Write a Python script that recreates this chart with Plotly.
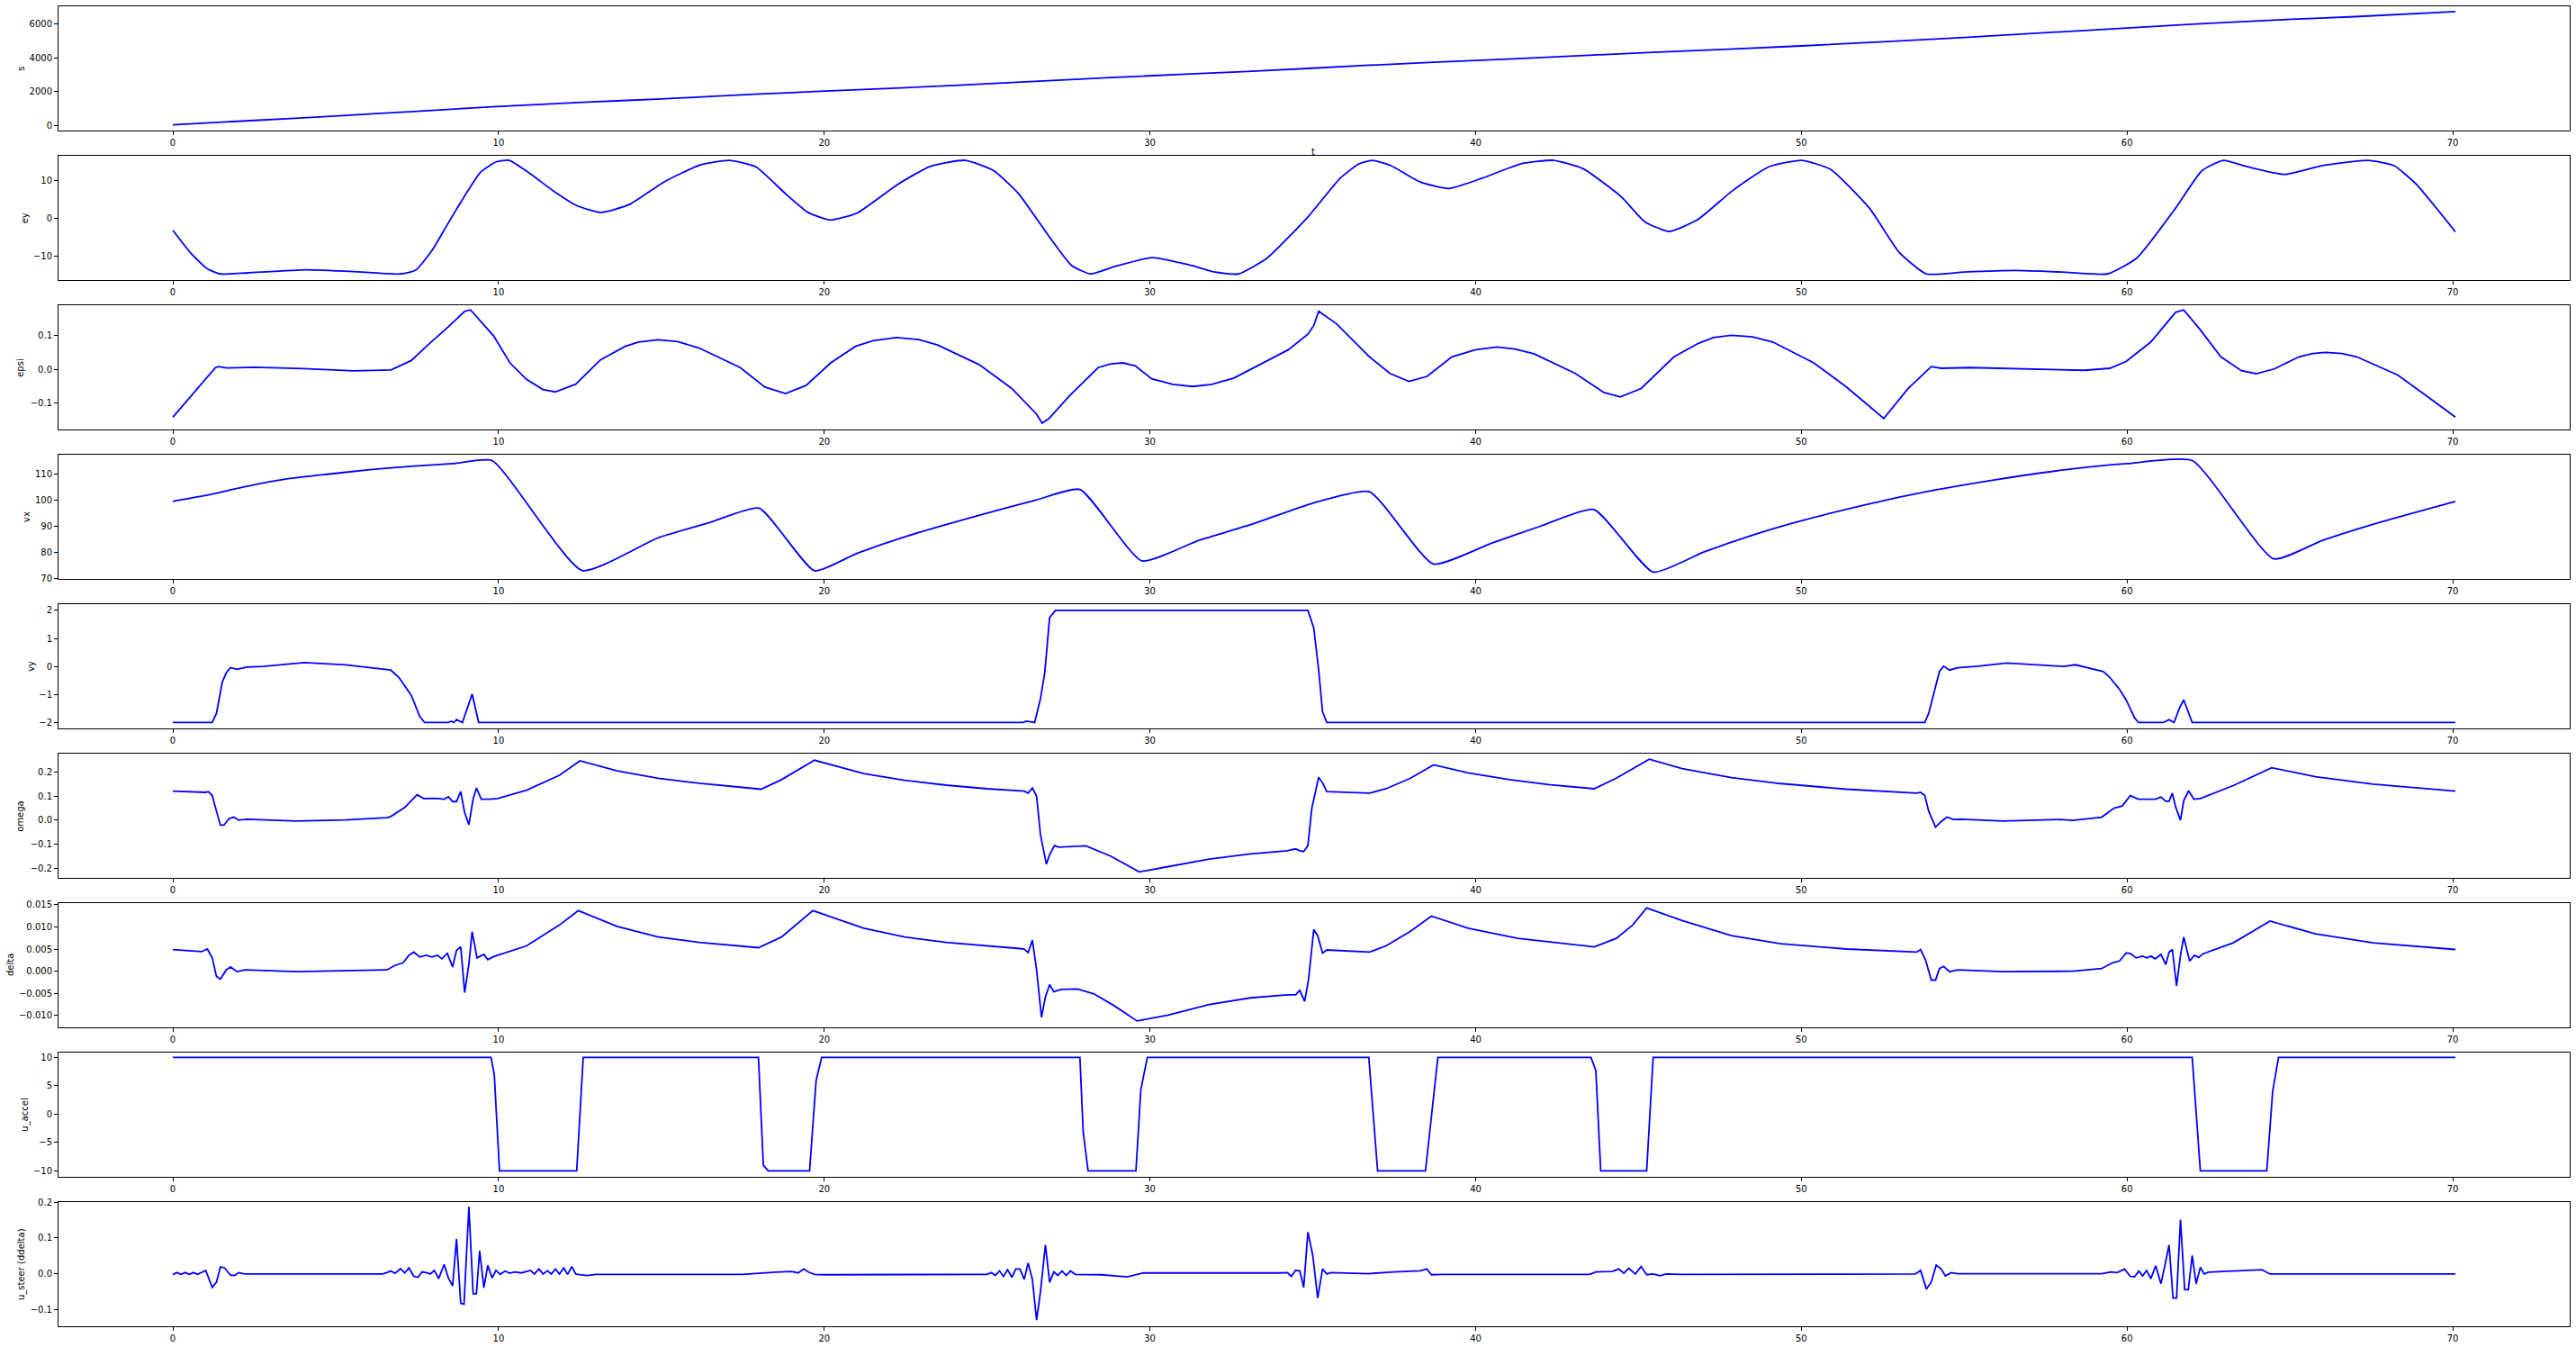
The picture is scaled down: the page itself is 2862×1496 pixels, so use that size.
import plotly.graph_objects as go

# ---------------- data ----------------
t_s = [0, 2.5, 5, 7.5, 9.8, 12.57, 15, 18.0, 19.7, 24, 27.85, 29.75, 33, 36.74, 38.7, 41, 43.63,
       45.45, 50, 55, 62, 64.5, 67, 70.08]
s_vals = [40, 296, 560, 838, 1100, 1370, 1566, 1860, 2005, 2366, 2745, 2920, 3193, 3565, 3740, 3924,
          4170, 4325, 4710, 5210, 5995, 6240, 6443, 6745]

t_ey = [0, 0.56, 1.05, 1.45, 2.3, 4.1, 5.8, 7.0, 7.46, 7.96, 8.45, 8.95, 9.44, 9.93, 10.33, 10.92,
        11.66, 12.4, 13.14, 14.0, 15.1, 16.2, 17.08, 17.9, 18.8, 19.5, 20.19, 21.0, 22.26, 23.25,
        24.33, 25.2, 25.96, 26.95, 27.6, 28.18, 28.9, 30.06, 31.2, 32.0, 32.72, 33.6, 34.84, 35.83,
        36.4, 36.82, 37.4, 38.3, 39.18, 40.2, 41.4, 42.4, 43.3, 44.46, 45.2, 45.94, 46.8, 47.9,
        49.0, 50.0, 50.9, 52.1, 53.0, 53.84, 55.0, 56.55, 58.0, 59.4, 60.3, 61.48, 62.3, 62.96,
        63.7, 64.84, 66.0, 67.4, 68.2, 68.88, 70.08]
ey_vals = [-3.2, -9.3, -13.3, -14.7, -14.4, -13.6, -14.2, -14.7, -13.7, -8.5, -1.4, 5.7, 12.0, 14.8,
           15.2, 12.0, 7.3, 3.3, 1.5, 3.5, 9.6, 14.0, 15.2, 13.5, 6.5, 1.5, -0.5, 1.3, 8.9, 13.6,
           15.2, 12.5, 6.5, -5.4, -12.5, -14.7, -12.8, -10.4, -12.3, -14.2, -14.7, -10.5, 0.2, 10.4,
           14.2, 15.2, 13.8, 9.5, 7.8, 10.5, 14.3, 15.2, 13.0, 5.7, -1.0, -3.5, -0.5, 7.3,
           13.5, 15.2, 12.8, 2.5, -9.0, -14.7, -14.2, -13.8, -14.2, -14.7, -10.5, 2.5, 12.5, 15.2,
           13.5, 11.5, 13.8, 15.2, 13.8, 8.9, -3.6]

t_epsi = [0, 1.31, 1.4, 1.64, 2.5, 4.0, 5.56, 6.7, 7.32, 7.83, 8.46, 8.96, 9.14, 9.85, 10.35, 10.86,
          11.36, 11.74, 12.37, 13.13, 13.89, 14.3, 14.9, 15.5, 16.16, 17.42, 18.18, 18.81, 19.44,
          20.2, 20.96, 21.5, 22.22, 22.9, 23.48, 24.75, 25.76, 26.52, 26.69, 26.9, 27.53, 28.41,
          28.8, 29.17, 29.55, 30.05, 30.7, 31.31, 31.9, 32.58, 34.25, 34.85, 35.03, 35.18, 35.73,
          36.74, 37.37, 37.95, 38.51, 39.27, 40.0, 40.66, 41.2, 41.79, 43.06, 43.94, 44.44, 45.08,
          46.09, 46.84, 47.3, 47.85, 48.5, 49.12, 50.38, 51.39, 52.53, 53.28, 53.99, 54.29, 55.18,
          56.94, 58.71, 59.47, 59.97, 60.73, 61.49, 61.74, 62.25, 62.88, 63.51, 63.96, 64.52,
          65.28, 65.7, 66.09, 66.6, 67.05, 68.31, 69.32, 70.08]
epsi_vals = [-0.142, 0.005, 0.008, 0.004, 0.006, 0.002, -0.0045, -0.002, 0.026, 0.072, 0.126, 0.172,
             0.176, 0.099, 0.019, -0.030, -0.060, -0.067, -0.044, 0.028, 0.068, 0.081, 0.0875,
             0.082, 0.063, 0.005, -0.053, -0.072, -0.048, 0.019, 0.068, 0.085, 0.094, 0.088, 0.072,
             0.014, -0.057, -0.133, -0.160, -0.146, -0.079, 0.005, 0.016, 0.019, 0.010, -0.028,
             -0.045, -0.051, -0.045, -0.026, 0.058, 0.104, 0.130, 0.172, 0.135, 0.037, -0.0125,
             -0.036, -0.021, 0.037, 0.058, 0.066, 0.060, 0.046, -0.0125, -0.069, -0.082, -0.057,
             0.037, 0.077, 0.094, 0.101, 0.096, 0.081, 0.019, -0.053, -0.146, -0.057, 0.008, 0.003,
             0.005, 0.001, -0.003, 0.003, 0.023, 0.081, 0.169, 0.176, 0.117, 0.037, -0.004, -0.013,
             0.001, 0.037, 0.047, 0.050, 0.047, 0.037, -0.017, -0.088, -0.142]

t_vx = [0, 1.01, 2.27, 3.54, 4.8, 6.06, 7.32, 8.59, 9.8, 12.57, 14.9, 16.5, 18.0, 19.7, 21.0, 22.5,
        25.0, 26.5, 27.85, 29.75, 31.5, 33.2, 35.0, 36.74, 38.7, 40.5, 42.0, 43.63, 45.45, 47.0,
        48.5, 50.0, 52.0, 54.0, 56.0, 58.0, 60.0, 62.0, 64.5, 66.0, 67.5, 69.0, 70.08]
vx_vals = [99.5, 101.8, 105.3, 108.2, 110.0, 111.7, 113.0, 114.0, 115.2, 72.9, 85.5, 91.4, 96.9,
           72.8, 79.5, 86.0, 95.0, 100.0, 104.1, 76.6, 84.5, 91.0, 98.8, 103.2, 75.4, 83.5, 90.0,
           96.4, 72.3, 80.0, 86.5, 92.0, 98.3, 103.6, 107.9, 111.5, 114.0, 115.2, 77.4, 84.5,
           90.5, 95.8, 99.5]

t_vy = [0, 1.21, 1.34, 1.52, 1.64, 1.77, 1.97, 2.27, 2.78, 4.04, 5.3, 6.69, 6.94, 7.32, 7.58, 7.73,
        8.46, 8.55, 8.63, 8.71, 8.89, 9.09, 9.19, 9.39, 26.1, 26.2, 26.46, 26.64, 26.77, 26.92,
        27.1, 34.85, 35.03, 35.18, 35.3, 35.43, 53.79, 53.91, 54.07, 54.24, 54.37, 54.55, 54.8,
        55.43, 56.31, 57.2, 58.08, 58.41, 58.84, 59.27, 59.47, 59.77, 59.97, 60.23, 60.35, 61.11,
        61.29, 61.44, 61.62, 61.74, 62.0, 70.08]
vy_vals = [-2, -2, -1.67, -0.55, -0.23, -0.04, -0.1, -0.02, 0.0, 0.14, 0.06, -0.13, -0.39, -1.03,
           -1.78, -2, -2, -1.95, -2, -1.89, -2, -1.3, -0.98, -2, -2, -1.95, -2, -1.14, -0.23, 1.74,
           2.0, 2.0, 1.37, -0.13, -1.62, -2, -2, -1.67, -0.98, -0.18, 0.01, -0.13, -0.05,
           0.01, 0.12, 0.06, 0.0, 0.06, -0.05, -0.18, -0.39, -0.82, -1.19, -1.83, -2, -2,
           -1.9, -2, -1.46, -1.19, -2, -2]

t_om = [0, 1.01, 1.09, 1.21, 1.34, 1.46, 1.57, 1.72, 1.87, 2.02, 2.27, 3.79, 5.3, 6.57, 6.69, 6.94,
        7.12, 7.32, 7.5, 7.7, 8.08, 8.33, 8.46, 8.59, 8.71, 8.84, 8.96, 9.09, 9.22, 9.32, 9.47,
        9.72, 9.97, 10.86, 11.87, 12.5, 13.64, 14.9, 16.16, 17.42, 18.06, 18.69, 19.7, 21.21,
        22.47, 23.74, 25.0, 26.14, 26.26, 26.39, 26.52, 26.64, 26.82, 26.92, 27.07, 27.2, 27.78,
        28.03, 28.79, 29.29, 29.67, 30.56, 31.82, 33.08, 34.22, 34.47, 34.6, 34.72, 34.85, 34.97,
        35.18, 35.3, 35.43, 36.74, 37.25, 38.0, 38.71, 39.77, 41.04, 42.3, 43.64, 44.32, 45.33,
        46.34, 47.85, 49.37, 51.39, 53.54, 53.66, 53.79, 53.91, 54.12, 54.29, 54.47, 54.67,
        54.92, 56.19, 57.95, 58.33, 59.22, 59.6, 59.85, 60.1, 60.35, 60.86, 61.04, 61.19, 61.29,
        61.39, 61.49, 61.64, 61.74, 61.89, 62.05, 62.25, 63.26, 64.44, 65.78, 67.55, 70.08]
om_vals = [0.121, 0.116, 0.119, 0.1025, 0.0375, -0.021, -0.021, 0.006, 0.0125, 0.0, 0.004, -0.004,
           0.001, 0.01, 0.015, 0.0375, 0.0525, 0.081, 0.106, 0.09, 0.091, 0.0875, 0.0975, 0.0775,
           0.0775, 0.119, 0.031, -0.019, 0.0875, 0.134, 0.0875, 0.0875, 0.09, 0.125, 0.1875,
           0.2475, 0.206, 0.175, 0.154, 0.1375, 0.129, 0.169, 0.25, 0.194, 0.166, 0.146, 0.131,
           0.121, 0.1125, 0.134, 0.1, -0.0625, -0.184, -0.144, -0.106, -0.1125, -0.109, -0.1075,
           -0.15, -0.1875, -0.216, -0.194, -0.1625, -0.141, -0.1275, -0.12, -0.1275, -0.131,
           -0.106, 0.05, 0.179, 0.156, 0.119, 0.1125, 0.131, 0.175, 0.231, 0.1975, 0.169, 0.1475,
           0.131, 0.175, 0.254, 0.215, 0.1775, 0.1525, 0.129, 0.1125, 0.116, 0.1025, 0.0375,
           -0.029, -0.006, 0.0125, 0.0025, 0.004, -0.004, 0.0025, -0.001, 0.0125, 0.05, 0.059,
           0.1025, 0.0875, 0.0875, 0.096, 0.079, 0.079, 0.1125, 0.056, 0.0, 0.081, 0.1225, 0.0875,
           0.09, 0.144, 0.219, 0.181, 0.15, 0.121]

t_de = [0, 0.88, 1.06, 1.21, 1.34, 1.46, 1.64, 1.77, 1.97, 2.22, 3.79, 6.57, 6.82, 7.07, 7.25, 7.4,
        7.58, 7.78, 7.95, 8.13, 8.26, 8.43, 8.59, 8.71, 8.84, 8.96, 9.09, 9.19, 9.34, 9.55, 9.67,
        9.85, 10.86, 11.87, 12.45, 13.64, 14.9, 16.16, 17.98, 18.69, 19.65, 21.21, 22.47, 23.74,
        26.01, 26.14, 26.26, 26.39, 26.52, 26.67, 26.79, 26.92, 27.05, 27.27, 27.78, 28.28,
        28.91, 29.6, 30.56, 31.82, 33.08, 34.22, 34.47, 34.6, 34.75, 34.87, 35.03, 35.15, 35.3,
        35.43, 36.74, 37.25, 38.0, 38.64, 39.77, 41.29, 43.64, 44.32, 44.82, 45.25, 46.34, 47.85,
        49.37, 51.39, 53.54, 53.66, 53.81, 53.99, 54.12, 54.24, 54.37, 54.55, 54.8, 56.19, 58.33,
        59.22, 59.55, 59.77, 59.97, 60.1, 60.28, 60.48, 60.61, 60.73, 60.86, 61.04, 61.19, 61.29,
        61.39, 61.52, 61.64, 61.74, 61.92, 62.07, 62.2, 62.32, 63.26, 64.39, 65.78, 67.55, 70.08]
de_vals = [0.00486, 0.0044, 0.005, 0.003, -0.0012, -0.0018, 0.0003, 0.00095, -0.0001, 0.0003,
           -0.0001, 0.0003, 0.0013, 0.0019, 0.0036, 0.0043, 0.0032, 0.0036, 0.0032, 0.0036, 0.0028,
           0.004, 0.00095, 0.0047, 0.0055, -0.0048, 0.0016, 0.0089, 0.003, 0.0038, 0.0026, 0.0033,
           0.0057, 0.0104, 0.01365, 0.0101, 0.0077, 0.0065, 0.0053, 0.0077, 0.01365, 0.0097,
           0.0077, 0.0065, 0.0051, 0.005, 0.0042, 0.007, 0.0003, -0.0104, -0.0058, -0.003,
           -0.0046, -0.0041, -0.004, -0.0051, -0.0078, -0.0112, -0.0099, -0.0075, -0.006, -0.0053,
           -0.0053, -0.0043, -0.0068, -0.0018, 0.0094, 0.008, 0.0041, 0.0048, 0.0043, 0.0057,
           0.009, 0.0124, 0.0097, 0.0074, 0.0055, 0.0074, 0.0104, 0.01426, 0.0114, 0.008, 0.0062,
           0.005, 0.0043, 0.0049, 0.0026, -0.002, -0.002, 0.0006, 0.0011, -0.0001, 0.0003,
           -0.0001, 0.0, 0.0006, 0.0019, 0.0023, 0.0041, 0.004, 0.003, 0.0034, 0.003, 0.0034,
           0.0028, 0.0038, 0.0015, 0.0043, 0.0049, -0.0033, 0.0036, 0.0077, 0.0023, 0.0036,
           0.0031, 0.0039, 0.0064, 0.0113, 0.0084, 0.0064, 0.0049]

t_ua = [0, 9.77, 9.87, 10.03, 12.4, 12.6, 17.98, 18.13, 18.28, 19.55, 19.75, 19.92, 27.85, 27.95,
        28.1, 29.57, 29.72, 29.92, 36.72, 36.99, 38.46, 38.84, 43.54, 43.69, 43.84, 45.25, 45.45,
        62.0, 62.25, 64.29, 64.47, 64.65, 70.08]
ua_vals = [10, 10, 6.9, -10, -10, 10, 10, -9, -10, -10, 5.9, 10, 10, -3.1, -10, -10, 4.3, 10, 10,
           -10, -10, 10, 10, 7.7, -10, -10, 10, 10, -10, -10, 4.0, 10, 10]

t_us = [0, 0.13, 0.25, 0.38, 0.51, 0.63, 0.76, 0.88, 1.01, 1.21, 1.34, 1.46, 1.59, 1.77, 1.9, 2.02,
        2.2, 2.5, 6.44, 6.57, 6.69, 6.82, 6.99, 7.12, 7.25, 7.4, 7.53, 7.65, 7.78, 7.9, 8.03,
        8.16, 8.33, 8.46, 8.59, 8.71, 8.84, 8.94, 9.09, 9.22, 9.32, 9.42, 9.55, 9.67, 9.8, 9.92,
        10.05, 10.2, 10.35, 10.5, 10.7, 10.98, 11.1, 11.24, 11.37, 11.5, 11.62, 11.75, 11.87, 12.0,
        12.12, 12.25, 12.37, 12.5, 12.7, 13.0, 17.5, 18.5, 19.0, 19.2, 19.37, 19.5, 19.7, 20.0,
        25.0, 25.13, 25.25, 25.38, 25.5, 25.63, 25.76, 25.88, 26.01, 26.14, 26.26, 26.39, 26.52,
        26.64, 26.79, 26.92, 27.05, 27.17, 27.3, 27.43, 27.56, 27.7, 28.5, 29.3, 29.8, 34.0, 34.22,
        34.34, 34.47, 34.6, 34.72, 34.85, 35.0, 35.15, 35.3, 35.43, 35.55, 36.7, 37.5, 38.3,
        38.5, 38.64, 39.0, 43.5, 43.69, 44.2, 44.39, 44.55, 44.7, 44.9, 45.08, 45.25, 45.45,
        45.66, 45.85, 46.3, 53.5, 53.66, 53.84, 53.99, 54.14, 54.29, 54.42, 54.6, 54.8, 59.22,
        59.5, 59.7, 59.92, 60.1, 60.23, 60.36, 60.48, 60.6, 60.73, 60.88, 61.04, 61.16, 61.29,
        61.41, 61.52, 61.64, 61.77, 61.88, 62.0, 62.12, 62.25, 62.37, 62.5, 64.14, 64.39, 70.08]
us_vals = [-0.002, 0.003, -0.002, 0.003, -0.002, 0.003, -0.002, 0.003, 0.009, -0.0385, -0.024, 0.019,
           0.016, -0.004, -0.005, 0.003, -0.001, -0.001, -0.001, 0.003, 0.0075, 0.001, 0.014,
           0.002, 0.016, -0.0075, -0.01, 0.005, 0.003, -0.001, 0.009, -0.014, 0.026, -0.012,
           -0.034, 0.097, -0.083, -0.085, 0.187, -0.056, -0.056, 0.064, -0.039, 0.023, -0.012,
           0.009, -0.002, 0.007, 0.001, 0.005, 0.002, 0.009, -0.001, 0.013, -0.001, 0.008, -0.001,
           0.013, -0.001, 0.016, -0.002, 0.02, -0.001, -0.003, -0.005, -0.002, -0.002, 0.004,
           0.006, 0.002, 0.013, 0.005, -0.002, -0.003, -0.002, 0.003, -0.005, 0.008, -0.008, 0.011,
           -0.01, 0.013, 0.013, -0.016, 0.03, -0.016, -0.13, -0.049, 0.08, -0.024, 0.005, -0.005,
           0.0075, -0.005, 0.0075, -0.002, -0.003, -0.009, 0.002, 0.002, 0.003, -0.0075, 0.009,
           0.008, -0.039, 0.116, 0.051, -0.068, 0.013, -0.001, 0.003, 0.0, 0.005, 0.008, 0.013,
           -0.003, -0.002, -0.002, 0.005, 0.006, 0.013, 0.001, 0.015, -0.001, 0.02, -0.003,
           -0.001, -0.006, -0.001, -0.002, -0.001, 0.009, -0.043, -0.023, 0.024, 0.013, -0.006,
           0.003, 0.0, 0.0, 0.005, 0.003, 0.013, -0.0075, -0.009, 0.007, -0.006, 0.009, -0.014,
           0.022, -0.028, 0.022, 0.08, -0.068, -0.068, 0.151, -0.045, -0.045, 0.051, -0.028,
           0.0175, -0.001, 0.004, 0.011, -0.001, -0.001]

panels = [
    ("s", t_s, s_vals, [-304, 7056], [0, 2000, 4000, 6000], None, "spline"),
    ("ey", t_ey, ey_vals, [-16.3, 16.4], [-10, 0, 10], None, "spline"),
    ("epsi", t_epsi, epsi_vals, [-0.1786, 0.190], [-0.1, 0.0, 0.1], ".1f", "linear"),
    ("vx", t_vx, vx_vals, [69.66, 117.45], [70, 80, 90, 100, 110], None, "spline"),
    ("vy", t_vy, vy_vals, [-2.21, 2.22], [-2, -1, 0, 1, 2], None, "linear"),
    ("omega", t_om, om_vals, [-0.241, 0.2775], [-0.2, -0.1, 0.0, 0.1, 0.2], ".1f", "linear"),
    ("delta", t_de, de_vals, [-0.01264, 0.01534], [-0.010, -0.005, 0.0, 0.005, 0.010, 0.015], ".3f", "linear"),
    ("u_accel", t_ua, ua_vals, [-11.05, 10.85], [-10, -5, 0, 5, 10], None, "linear"),
    ("u_steer (ddelta)", t_us, us_vals, [-0.147, 0.2], [-0.1, 0.0, 0.1, 0.2], ".1f", "linear"),
]
x_ticks = [0, 10, 20, 30, 40, 50, 60, 70]

# ---------------- figure ----------------
W, H = 2862, 1496
ML, MR, MT, MB = 65, 7, 7, 23
PH = H - MT - MB
PW = W - ML - MR
PANEL_H, PITCH = 138, 166
# horizontal pixel centre of each rotated y-axis title (follows tick-label width)
title_px = [22.7, 28.3, 22.8, 29.0, 33.8, 22.8, 11.0, 27.7, 24.0]

fig = go.Figure()
font = dict(family="DejaVu Sans", size=10, color="black")
layout = dict(
    width=W, height=H, margin=dict(l=ML, r=MR, t=MT, b=MB, autoexpand=False),
    paper_bgcolor="white", plot_bgcolor="white", showlegend=False, font=font,
)
for i, (name, tx, vals, yr, yt, fmt, shape) in enumerate(panels):
    idx = "" if i == 0 else str(i + 1)
    line = dict(color="#0000ff", width=1.8, shape=shape)
    if shape == "spline":
        line["smoothing"] = 0.5
    fig.add_trace(go.Scatter(
        x=tx, y=vals, mode="lines", line=line,
        xaxis="x" + idx, yaxis="y" + idx, hoverinfo="skip",
    ))
    top = 1 - (PITCH * i) / PH
    bot = max(0.0, 1 - (PANEL_H + PITCH * i) / PH)
    layout["xaxis" + idx] = dict(
        domain=[0, 1], anchor="y" + idx, range=[-3.51, 73.59], automargin=False,
        tickvals=x_ticks, ticks="outside", ticklen=4, tickwidth=1, tickcolor="black",
        showline=True, linecolor="black", linewidth=1, mirror=True,
        showgrid=False, zeroline=False, tickfont=font,
    )
    ya = dict(
        domain=[bot, top], anchor="x" + idx, range=yr, automargin=False,
        tickvals=yt, ticks="outside", ticklen=4, tickwidth=1, tickcolor="black",
        showline=True, linecolor="black", linewidth=1, mirror=True,
        showgrid=False, zeroline=False, tickfont=font,
    )
    if fmt:
        ya["tickformat"] = fmt
    layout["yaxis" + idx] = ya
    fig.add_annotation(
        text=name, xref="paper", yref="paper", textangle=-90,
        x=(title_px[i] - ML) / PW, y=(top + bot) / 2,
        showarrow=False, font=font, xanchor="center", yanchor="middle",
    )

fig.update_layout(**layout)
fig.add_annotation(
    text="t", xref="paper", yref="paper",
    x=(1459 - ML) / PW, y=1 - (169 - MT) / PH,
    showarrow=False, font=font, xanchor="center", yanchor="middle",
)
fig.write_html("out.html")
